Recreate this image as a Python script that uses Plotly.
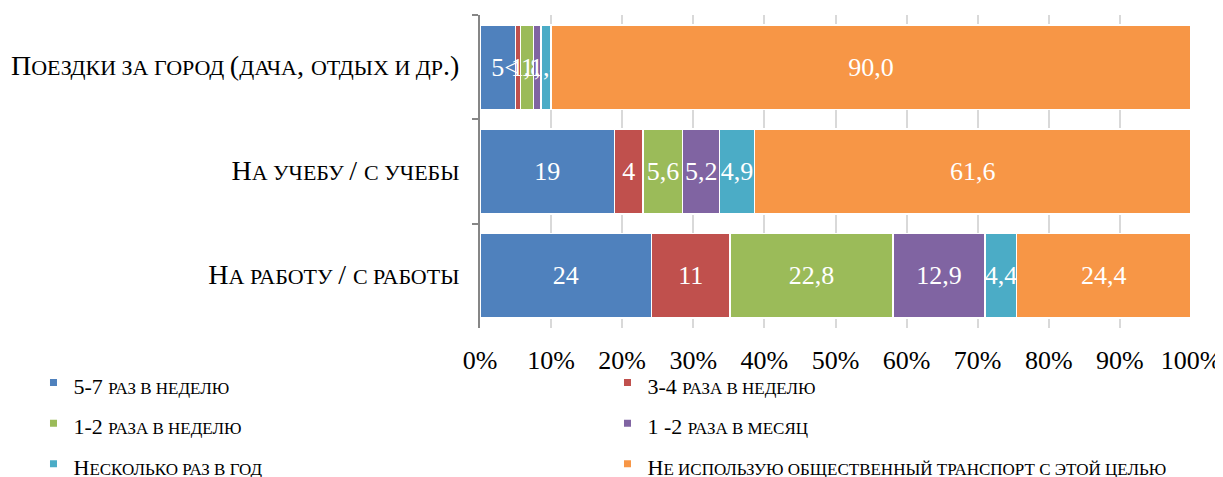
import plotly.graph_objs as go

# categories, top to bottom
categories = [
    "Поездки за город (дача, отдых и др.)",
    "На учебу / с учебы",
    "На работу / с работы",
]

seriesNames = [
    "5-7 раз в неделю",
    "3-4 раза в неделю",
    "1-2 раза в неделю",
    "1 -2 раза в месяц",
    "Несколько раз в год",
    "Не использую общественный транспорт с этой целью",
]

# values per series, in category order
weekly57 = [5.0, 19.0, 24.0]
weekly34 = [0.7, 4.0, 11.0]
weekly12 = [1.8, 5.6, 22.8]
monthly12 = [1.1, 5.2, 12.9]
yearly = [1.4, 4.9, 4.4]
notUsing = [90.0, 61.6, 24.4]

# data labels as printed on the chart
weekly57Text = ["5", "19", "24"]
weekly34Text = ["<1", "4", "11"]
weekly12Text = ["1,8", "5,6", "22,8"]
monthly12Text = ["1,1", "5,2", "12,9"]
yearlyText = ["1,4", "4,9", "4,4"]
notUsingText = ["90,0", "61,6", "24,4"]

seriesValues = [weekly57, weekly34, weekly12, monthly12, yearly, notUsing]
seriesText = [weekly57Text, weekly34Text, weekly12Text, monthly12Text, yearlyText, notUsingText]
seriesColors = ['#4F81BD', '#C0504D', '#9BBB59', '#8064A2', '#4BACC6', '#F79646']

tickValues = list(range(0, 101, 10))
tickLabels = [f"{v}%" for v in tickValues]


def smallCaps(text, big, small):
    # emulate small caps: lowercase letters become smaller capitals
    out = []
    run = ""
    runSmall = None
    for ch in text:
        isSmall = ch.islower() or (ch == " " and runSmall)
        if runSmall is None:
            runSmall = isSmall
        if isSmall != runSmall:
            out.append((run, runSmall))
            run = ""
            runSmall = isSmall
        run += ch.upper()
    if run:
        out.append((run, runSmall))
    parts = []
    for chunk, isSmall in out:
        size = small if isSmall else big
        parts.append(f"<span style='font-size:{size}px'>{chunk}</span>")
    return "".join(parts)


catLabels = [smallCaps(c, 28, 22) for c in categories]

fig = go.Figure()

for name, vals, txt, col in zip(seriesNames, seriesValues, seriesText, seriesColors):
    fig.add_trace(go.Bar(
        y=catLabels,
        x=vals,
        name=name,
        orientation='h',
        text=txt,
        textposition='inside',
        insidetextanchor='middle',
        textangle=0,
        constraintext='none',
        textfont=dict(color='white', size=26, family='Liberation Serif'),
        marker=dict(color=col, line=dict(color='white', width=1.5)),
        showlegend=False,
    ))

# legend entries with small square markers
for name, col in zip(seriesNames, seriesColors):
    fig.add_trace(go.Scatter(
        x=[None], y=[None],
        mode='markers',
        name=smallCaps(name, 22, 17),
        marker=dict(symbol='square', size=7, color=col),
        showlegend=True,
    ))

# the page body adds an 8px offset, so the figure is sized 8px smaller
fig.update_layout(
    width=1215,
    height=469,
    barmode='stack',
    barnorm='percent',
    bargap=0.19,
    margin=dict(l=472, r=32, t=7, b=149, autoexpand=False),
    plot_bgcolor='white',
    paper_bgcolor='white',
    font=dict(family='Liberation Serif', size=23, color='black'),
    xaxis=dict(
        range=[0, 100],
        tickvals=tickValues,
        ticktext=tickLabels,
        showgrid=True,
        gridcolor='#D9D9D9',
        gridwidth=1.5,
        zeroline=False,
        showline=False,
        tickfont=dict(size=26),
        ticks='',
        ticklabelstandoff=14,
        automargin=False,
        fixedrange=True,
    ),
    yaxis=dict(
        autorange='reversed',
        showline=True,
        linecolor='#868686',
        linewidth=2,
        ticks='outside',
        tickson='boundaries',
        ticklen=6,
        tickcolor='#868686',
        tickwidth=2,
        ticklabelstandoff=14,
        showgrid=False,
        automargin=False,
    ),
    legend=dict(
        orientation='h',
        x=-0.628,
        y=-0.093,
        xanchor='left',
        yanchor='top',
        entrywidth=529,
        bgcolor='rgba(0,0,0,0)',
        font=dict(size=29, family='Liberation Serif'),
        itemwidth=30,
        traceorder='normal',
    ),
)

fig.write_html("out.html")
